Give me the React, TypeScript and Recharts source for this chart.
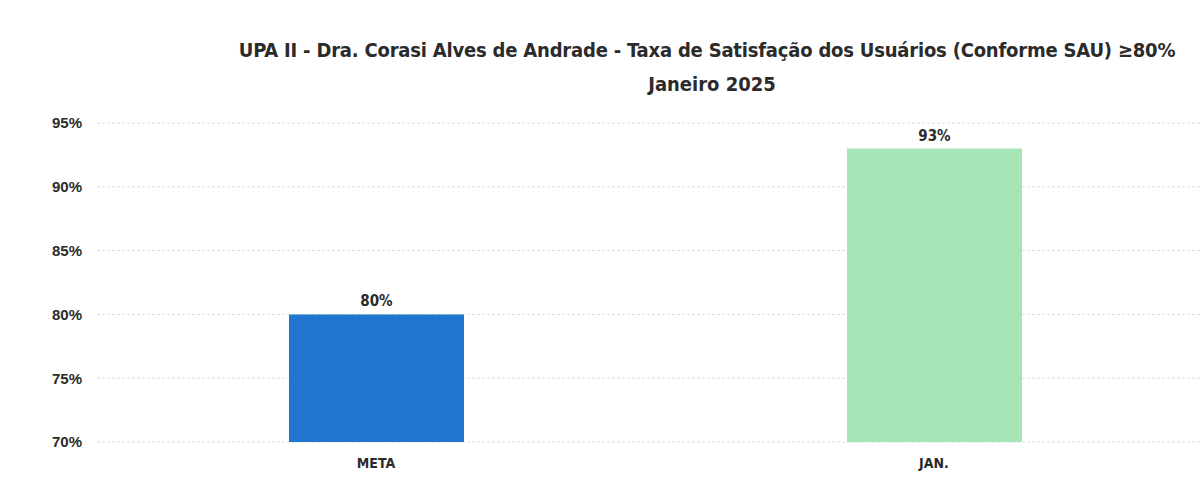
import React from 'react';
import { BarChart, Bar, XAxis, YAxis, CartesianGrid, LabelList, Cell } from 'recharts';

const categories = ['META', 'JAN.'];
const values = [80, 93];
const barColors = ['#2177CF', '#A6E6B6'];
const yTicks = [70, 75, 80, 85, 90, 95];

const titleLine1 = 'UPA II - Dra. Corasi Alves de Andrade - Taxa de Satisfação dos Usuários (Conforme SAU) ≥80%';
const titleLine2 = 'Janeiro 2025';

const data = categories.map((name, i) => ({ name, value: values[i] }));

const condensed = '"DejaVu Sans Condensed", "Liberation Sans Narrow", sans-serif';

export default function App() {
  return (
    <div style={{ position: 'fixed', left: 0, top: 0, width: 1202, height: 486, overflow: 'hidden', background: '#fff' }}>
      <div style={{ position: 'absolute', left: 200, width: 1014, top: 33, textAlign: 'center',
        fontFamily: condensed, fontWeight: 'bold', fontSize: 20, lineHeight: '34px', color: '#2b2b2b' }}>
        <div style={{ letterSpacing: '-0.2px' }}>{titleLine1}</div>
        <div style={{ paddingLeft: 10 }}>{titleLine2}</div>
      </div>
      <div style={{ position: 'absolute', left: 0, top: 0 }}>
        <BarChart width={1220} height={486} data={data}
          margin={{ top: 123, right: 7, bottom: 0, left: 0 }}>
          <CartesianGrid vertical={false} stroke="#dcdcdc" strokeDasharray="3 2" />
          <XAxis dataKey="name" axisLine={false} tickLine={false} height={44} tickMargin={10}
            tick={{ fill: '#2b2b2b', fontSize: 14, fontWeight: 'bold', fontFamily: condensed }} />
          <YAxis width={97} domain={[70, 95]} ticks={yTicks} axisLine={false} tickLine={false} tickMargin={9}
            tickFormatter={(v: number) => `${v}%`}
            tick={{ fill: '#2b2b2b', fontSize: 15, fontWeight: 'bold', fontFamily: 'Arial, "Liberation Sans", sans-serif' }} />
          <Bar dataKey="value" barSize={175} isAnimationActive={false}>
            {data.map((d, i) => <Cell key={d.name} fill={barColors[i]} />)}
            <LabelList dataKey="value" position="top" offset={8} formatter={(v: number) => `${v}%`}
              style={{ fill: '#2b2b2b', fontSize: 15, fontWeight: 'bold', fontFamily: condensed }} />
          </Bar>
        </BarChart>
      </div>
    </div>
  );
}
